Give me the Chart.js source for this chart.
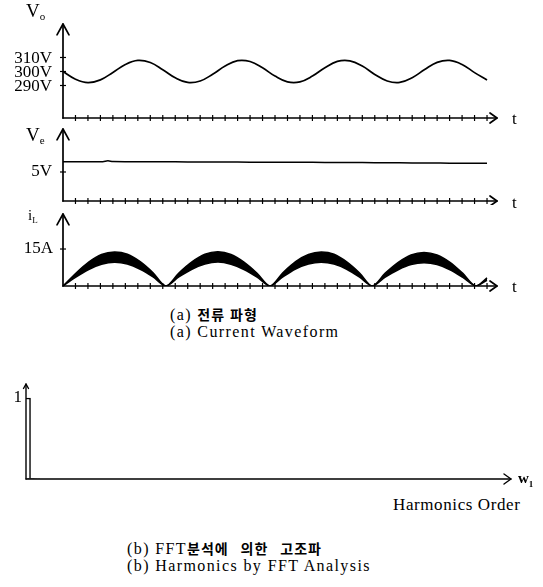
<!DOCTYPE html>
<html lang="ko">
<head>
<meta charset="UTF-8">
<title>Current Waveform and Harmonics</title>
<script src="https://cdn.jsdelivr.net/npm/chart.js"></script>
<style>
  body { margin: 0; background: #fff; }
  #page { position: relative; width: 543px; height: 587px; overflow: hidden; color: #000;
          font-family: "Liberation Serif", "DejaVu Serif", serif; }
  canvas { position: absolute; left: 0; }
  .txt { position: absolute; white-space: nowrap; line-height: 1; }
  .sym { font-size: 19px; }
  .sym sub { font-size: 11px; vertical-align: -3px; }
  .cap { font-size: 16px; letter-spacing: 1.4px; }
  .ko { font-family: "Noto Sans CJK KR", sans-serif; font-size: 14px; font-weight: 700; letter-spacing: 1px; }
</style>
</head>
<body>
<div id="page">
  <canvas id="voChart" width="543" height="125" style="top:0"></canvas>
  <canvas id="veChart" width="543" height="80" style="top:125px"></canvas>
  <canvas id="ilChart" width="543" height="90" style="top:205px"></canvas>
  <canvas id="fftChart" width="543" height="115" style="top:375px"></canvas>

  <div class="txt sym" style="left:26px;top:1px">V<sub>o</sub></div>
  <div class="txt sym" style="left:26px;top:125px">V<sub>e</sub></div>
  <div class="txt sym" style="left:28px;top:208px;font-size:15px">i<sub style="font-size:9px">L</sub></div>
  <div class="txt" style="left:512px;top:110px;font-size:17px">t</div>
  <div class="txt" style="left:512px;top:194px;font-size:17px">t</div>
  <div class="txt" style="left:512px;top:278px;font-size:17px">t</div>
  <div class="txt" style="left:518px;top:471px;font-size:15px;font-weight:bold">w<sub style="font-size:9px">1</sub></div>
  <div class="txt" style="left:393px;top:496px;font-size:17px;letter-spacing:0.6px">Harmonics Order</div>

  <div class="txt cap" style="left:170px;top:307px">(a) <span class="ko">전류 파형</span></div>
  <div class="txt cap" style="left:170px;top:324px">(a) Current Waveform</div>
  <div class="txt cap" style="left:127px;top:541px">(b) FFT<span class="ko" style="word-spacing:7px">분석에 의한 고조파</span></div>
  <div class="txt cap" style="left:127px;top:558px">(b) Harmonics by FFT Analysis</div>
</div>

<script>
// output voltage Vo (V) against time ticks
const voTime = [0, 1, 2, 3, 4, 5, 6, 7, 8, 9, 10, 11, 12, 13, 14, 15, 16, 17,
                18, 19, 20, 21, 22, 23, 24, 25, 26, 27, 28, 29, 30, 31, 32, 33, 34];
const voValue = [300.0, 294.5, 292.0, 294.0, 299.3, 305.0, 307.9, 306.4, 301.3, 295.5,
                 292.2, 293.2, 298.0, 303.9, 307.7, 307.1, 302.6, 296.7, 292.6, 292.6,
                 296.7, 302.7, 307.2, 307.6, 303.9, 297.9, 293.2, 292.2, 295.6, 301.4,
                 306.5, 307.9, 305.0, 299.2, 293.9];
const voTicks = [290, 300, 310];

// control voltage Ve (V)
const veTime = [0, 2, 3.2, 3.6, 4.0, 6, 8, 10, 12, 14, 16, 18, 20, 22, 24, 26, 28, 29.5, 31, 32.5, 34];
const veValue = [6.78, 6.77, 6.78, 6.92, 6.79, 6.76, 6.75, 6.74, 6.72, 6.71, 6.69,
                 6.68, 6.66, 6.64, 6.62, 6.60, 6.57, 6.56, 6.52, 6.50, 6.50];
const veTicks = [5];

// inductor current iL (A): upper and lower edge of the ripple band
const ilTime = [0, 1.03, 2.06, 3.09, 4.13, 5.16, 6.19, 7.22, 8.25,
                9.29, 10.34, 11.38, 12.43, 13.47, 14.51, 15.56, 16.6,
                17.63, 18.65, 19.68, 20.7, 21.73, 22.75, 23.78, 24.8,
                25.84, 26.88, 27.91, 28.95, 29.99, 31.03, 32.06, 33.1, 34.0];
const ilUpper = [0, 5.2, 9.7, 12.8, 13.8, 12.9, 9.9, 5.4, 0,
                 5.3, 9.8, 12.9, 13.9, 12.8, 9.7, 5.2, 0,
                 5.4, 9.9, 12.8, 13.8, 12.9, 9.8, 5.3, 0,
                 5.2, 9.6, 12.6, 13.6, 12.6, 9.6, 5.1, 0, 3.3];
const ilLower = [0, 3.6, 6.7, 8.8, 9.6, 8.9, 6.8, 3.7, 0,
                 3.7, 6.8, 8.9, 9.7, 8.8, 6.7, 3.6, 0,
                 3.7, 6.9, 8.9, 9.6, 8.9, 6.8, 3.6, 0,
                 3.6, 6.6, 8.7, 9.4, 8.7, 6.6, 3.5, 0, 2.3];
const ilTicks = [15];

// FFT result, normalised to the fundamental
const harmonicOrder = [1, 3, 5, 7];
const harmonicValue = [1, 0.004, 0.003, 0.002];
const fftTicks = [1];

// small cross marks along the time axes
const timeMarks = [];
for (let i = 1; i <= 34; i++) timeMarks.push(i);

Chart.defaults.font.family = '"Liberation Serif", "DejaVu Serif", serif';
Chart.defaults.color = '#000';

// hand drawn looking axes: open arrow heads and little cross ticks
const handAxes = {
    id: 'handAxes',
    afterDraw(chart, args, o) {
        const ctx = chart.ctx, a = chart.chartArea;
        const xs = chart.scales.x, ys = chart.scales.y;
        const seg = (x1, y1, x2, y2) => { ctx.beginPath(); ctx.moveTo(x1, y1); ctx.lineTo(x2, y2); ctx.stroke(); };
        ctx.save();
        ctx.strokeStyle = '#000';
        ctx.lineWidth = o.width;
        ctx.lineJoin = 'round';
        ctx.lineCap = 'round';
        seg(a.left, a.bottom, a.left, a.top);
        ctx.beginPath();
        ctx.moveTo(a.left - o.head, a.top + o.head * 1.8);
        ctx.lineTo(a.left, a.top);
        ctx.lineTo(a.left + o.head, a.top + o.head * 1.8);
        ctx.stroke();
        seg(a.left, a.bottom, a.right, a.bottom);
        ctx.beginPath();
        ctx.moveTo(a.right - 7, a.bottom - 5);
        ctx.lineTo(a.right, a.bottom);
        ctx.lineTo(a.right - 7, a.bottom + 5);
        ctx.stroke();
        ctx.lineWidth = 1.2;
        ctx.lineCap = 'butt';
        (o.xMarks || []).forEach(v => {
            const px = xs.getPixelForValue(v);
            seg(px, a.bottom - 3, px, a.bottom + 3);
        });
        if (o.yMarks) ys.ticks.forEach(t => {
            const py = ys.getPixelForValue(t.value);
            seg(a.left - 3, py, a.left + 3, py);
        });
        ctx.restore();
    }
};

function makeChart(id, type, datasets, s) {
    return new Chart(document.getElementById(id), {
        type: type,
        data: { datasets: datasets },
        options: {
            responsive: false,
            animation: false,
            devicePixelRatio: 1,
            layout: { padding: s.padding },
            plugins: {
                legend: { display: false },
                tooltip: { enabled: false },
                handAxes: s.axes
            },
            scales: {
                x: { type: 'linear', display: false, min: 0, max: s.xMax, offset: false },
                y: {
                    min: s.yMin,
                    max: s.yMax,
                    border: { display: false },
                    grid: { display: false, drawTicks: false },
                    // fixed axis box, and no extra room reserved for half labels
                    afterFit: sc => { sc.width = s.yWidth; sc.paddingTop = 0; sc.paddingBottom = 0; },
                    afterBuildTicks: sc => { sc.ticks = s.yTicks.map(v => ({ value: v })); },
                    ticks: {
                        autoSkip: false,
                        padding: s.labelPad,
                        labelOffset: s.labelOffset || 0,
                        font: { size: s.fontSize },
                        callback: s.fmt
                    }
                }
            }
        },
        plugins: [handAxes]
    });
}

const pts = (xs, ys) => xs.map((x, i) => ({ x: x, y: ys[i] }));

makeChart('voChart', 'line', [{
    data: pts(voTime, voValue),
    borderColor: '#000', borderWidth: 1.7, pointRadius: 0, tension: 0.4
}], {
    padding: { top: 24, right: 46, bottom: 7, left: 0 },
    xMax: 34.8, yMin: 266.8, yMax: 333.9, yTicks: voTicks, yWidth: 63,
    labelPad: 11, labelOffset: 1, fontSize: 17, fmt: v => v + 'V',
    axes: { width: 1.7, head: 6, xMarks: timeMarks, yMarks: true }
});

makeChart('veChart', 'line', [{
    data: pts(veTime, veValue),
    borderColor: '#000', borderWidth: 1.5, pointRadius: 0, tension: 0.3
}], {
    padding: { top: 4, right: 46, bottom: 4, left: 0 },
    xMax: 34.8, yMin: 0, yMax: 12.41, yTicks: veTicks, yWidth: 63,
    labelPad: 11, fontSize: 17, fmt: v => v + 'V',
    axes: { width: 1.7, head: 6, xMarks: timeMarks, yMarks: true }
});

makeChart('ilChart', 'line', [{
    data: pts(ilTime, ilUpper),
    borderColor: '#000', borderWidth: 1.5, pointRadius: 0, tension: 0.3,
    fill: '+1', backgroundColor: '#000'
}, {
    data: pts(ilTime, ilLower),
    borderColor: '#000', borderWidth: 1.5, pointRadius: 0, tension: 0.3
}], {
    padding: { top: 9, right: 46, bottom: 9, left: 0 },
    xMax: 34.8, yMin: 0, yMax: 29.2, yTicks: ilTicks, yWidth: 63,
    labelPad: 10, fontSize: 17, fmt: v => v + 'A',
    axes: { width: 1.7, head: 6, xMarks: timeMarks, yMarks: true }
});

makeChart('fftChart', 'bar', [{
    data: pts(harmonicOrder, harmonicValue),
    backgroundColor: '#fff', borderColor: '#000', borderWidth: 1.5, barThickness: 6
}], {
    padding: { top: 9, right: 32, bottom: 11, left: 0 },
    xMax: 320, yMin: 0, yMax: 1.173, yTicks: fftTicks, yWidth: 26,
    labelPad: 4, fontSize: 17, fmt: v => String(v),
    axes: { width: 1.4, head: 2.5 }
});
</script>
</body>
</html>
